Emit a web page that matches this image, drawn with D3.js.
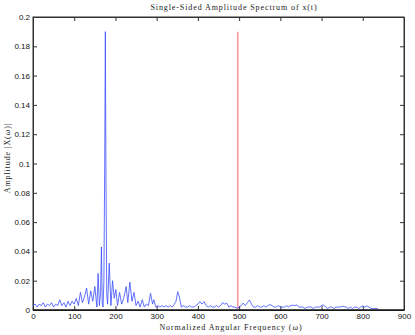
<!DOCTYPE html>
<html>
<head>
<meta charset="utf-8">
<script src="https://cdn.jsdelivr.net/npm/d3@7"></script>
<style>
  body { margin: 0; background: #fff; }
  svg { display: block; }
</style>
</head>
<body>
<svg id="viz" width="415" height="335"></svg>
<script>
// spectrum: frequency (omega) and |X(omega)|
var freq = [0,5,10,15,20,25,30,35,40,45,50,55,60,65,70,75,80,85,90,95,
  100,105,110,115,120,125,130,135,140,145,150,155,158,161,164,166,168,170,172,174,
  175.5,177,179,181,185,189,193,197,201,205,210,215,220,226,230,235,240,245,250,255,
  260,265,270,275,280,285,290,293,298,303,308,313,318,323,328,333,338,343,347,351,
  355,360,365,370,375,380,385,390,395,400,405,410,415,420,425,430,435,440,445,450,
  455,460,465,470,475,480,485,490,495,500,505,510,515,520,525,530,535,540,545,550,
  555,560,565,570,575,580,585,590,595,600,605,610,615,620,625,630,635,640,645,650,
  655,660,665,670,675,680,685,690,695,700,705,710,715,720,725,730,735,740,745,750,
  755,760,765,770,775,780,785,790,795,800,805,810,815,820,825,830,835,838];
var amp = [0.003,0.004,0.002,0.004,0.003,0.005,0.002,0.004,0.003,0.005,0.002,0.004,0.003,0.007,0.003,0.005,0.002,0.006,0.003,0.006,
  0.004,0.008,0.003,0.012,0.005,0.009,0.015,0.004,0.013,0.006,0.016,0.002,0.025,0.003,0.012,0.043,0.004,0.002,0.02,0.10,
  0.19,0.09,0.01,0.004,0.032,0.003,0.02,0.008,0.014,0.003,0.012,0.004,0.008,0.016,0.005,0.019,0.006,0.012,0.003,0.006,
  0.002,0.007,0.002,0.004,0.003,0.0115,0.004,0.007,0.002,0.003,0.002,0.003,0.002,0.003,0.002,0.003,0.002,0.004,0.006,0.0125,
  0.009,0.002,0.003,0.002,0.002,0.003,0.002,0.002,0.003,0.004,0.0057,0.004,0.0057,0.003,0.002,0.003,0.002,0.002,0.003,0.002,
  0.003,0.005,0.004,0.0047,0.002,0.003,0.002,0.002,0.001,0.002,0.003,0.0047,0.003,0.005,0.0068,0.004,0.002,0.002,0.003,0.002,
  0.002,0.003,0.002,0.003,0.0037,0.003,0.002,0.002,0.003,0.002,0.002,0.002,0.003,0.002,0.003,0.0033,0.003,0.0035,0.002,0.002,
  0.002,0.001,0.002,0.002,0.002,0.001,0.002,0.002,0.002,0.003,0.0035,0.002,0.001,0.002,0.002,0.001,0.002,0.002,0.002,0.0025,
  0.0023,0.002,0.001,0.002,0.001,0.002,0.002,0.001,0.002,0.0028,0.002,0.0028,0.002,0.001,0.001,0.001,0.001,0.0005];

// red marker line
var markerFreq = 497;
var markerAmp = [0, 0.19];

var xTicks = [0,100,200,300,400,500,600,700,800,900];
var yTicks = [0,0.02,0.04,0.06,0.08,0.1,0.12,0.14,0.16,0.18,0.2];

var margins = {top: 17, right: 11, bottom: 25, left: 33};

var svg = d3.select("#viz"),
    W = +svg.attr("width"),
    H = +svg.attr("height");

var xScale = d3.scaleLinear().domain([0, 900]).range([margins.left, W - margins.right]);
var yScale = d3.scaleLinear().domain([0, 0.2]).range([H - margins.bottom, margins.top]);

var tickFont = "'Liberation Sans', Arial, sans-serif";
var texFont = "'Liberation Serif', 'DejaVu Serif', serif";

// box
svg.append("rect")
  .attr("x", xScale(0)).attr("y", yScale(0.2))
  .attr("width", xScale(900) - xScale(0)).attr("height", yScale(0) - yScale(0.2))
  .attr("fill", "none").attr("stroke", "#333").attr("stroke-width", 1);

// axes with inward ticks
function styleAxis(g){
  g.selectAll(".domain").attr("stroke", "#333");
  g.selectAll(".tick line").attr("stroke", "#333");
  g.selectAll(".tick text").attr("fill", "#111").style("font-family", tickFont).style("font-size", "8px");
}

svg.append("g")
  .attr("transform", "translate(0," + yScale(0) + ")")
  .call(d3.axisBottom(xScale).tickValues(xTicks).tickSize(-4).tickSizeOuter(0).tickPadding(3))
  .call(styleAxis);
svg.append("g")
  .attr("transform", "translate(0," + yScale(0.2) + ")")
  .call(d3.axisTop(xScale).tickValues(xTicks).tickSize(-4).tickSizeOuter(0).tickFormat(""))
  .call(styleAxis);
svg.append("g")
  .attr("transform", "translate(" + xScale(0) + ",0)")
  .call(d3.axisLeft(yScale).tickValues(yTicks).tickSize(-4).tickSizeOuter(0).tickPadding(3)
    .tickFormat(function(d){ return d === 0 ? "0" : d3.format("~g")(d); }))
  .call(styleAxis);
svg.append("g")
  .attr("transform", "translate(" + xScale(900) + ",0)")
  .call(d3.axisRight(yScale).tickValues(yTicks).tickSize(-4).tickSizeOuter(0).tickFormat(""))
  .call(styleAxis);

// red marker
svg.append("line")
  .attr("x1", xScale(markerFreq)).attr("x2", xScale(markerFreq))
  .attr("y1", yScale(markerAmp[0])).attr("y2", yScale(markerAmp[1]))
  .attr("stroke", "#ff7b7b").attr("stroke-width", 1.2);

// spectrum line
var pts = freq.map(function(f, i){ return {f: f, a: amp[i]}; });
var line = d3.line()
  .x(function(d){ return xScale(d.f); })
  .y(function(d){ return yScale(d.a); });
svg.append("path")
  .datum(pts)
  .attr("d", line)
  .attr("fill", "none")
  .attr("stroke", "#3a4cff")
  .attr("stroke-width", 0.8)
  .attr("stroke-linejoin", "round");

// bottom axis line drawn again on top
svg.append("line")
  .attr("x1", xScale(0)).attr("x2", xScale(900))
  .attr("y1", yScale(0)).attr("y2", yScale(0))
  .attr("stroke", "#000").attr("stroke-width", 1.2);

// title and labels
svg.append("text")
  .attr("x", 234).attr("y", 10)
  .attr("text-anchor", "middle")
  .style("font-family", texFont).style("font-size", "8px").style("letter-spacing", "0.9px")
  .attr("fill", "#222")
  .text("Single-Sided Amplitude Spectrum of x(t)");

var xl = svg.append("text")
  .attr("x", 231).attr("y", 330)
  .attr("text-anchor", "middle")
  .style("font-family", texFont).style("font-size", "8px").style("letter-spacing", "0.9px")
  .attr("fill", "#222");
xl.append("tspan").text("Normalized Angular Frequency (");
xl.append("tspan").style("font-style", "italic").text("ω");
xl.append("tspan").text(")");

var yl = svg.append("text")
  .attr("transform", "translate(10,158) rotate(-90)")
  .attr("text-anchor", "middle")
  .style("font-family", texFont).style("font-size", "8px").style("letter-spacing", "0.9px")
  .attr("fill", "#222");
yl.append("tspan").text("Amplitude |X(");
yl.append("tspan").style("font-style", "italic").text("ω");
yl.append("tspan").text(")|");
</script>
</body>
</html>
